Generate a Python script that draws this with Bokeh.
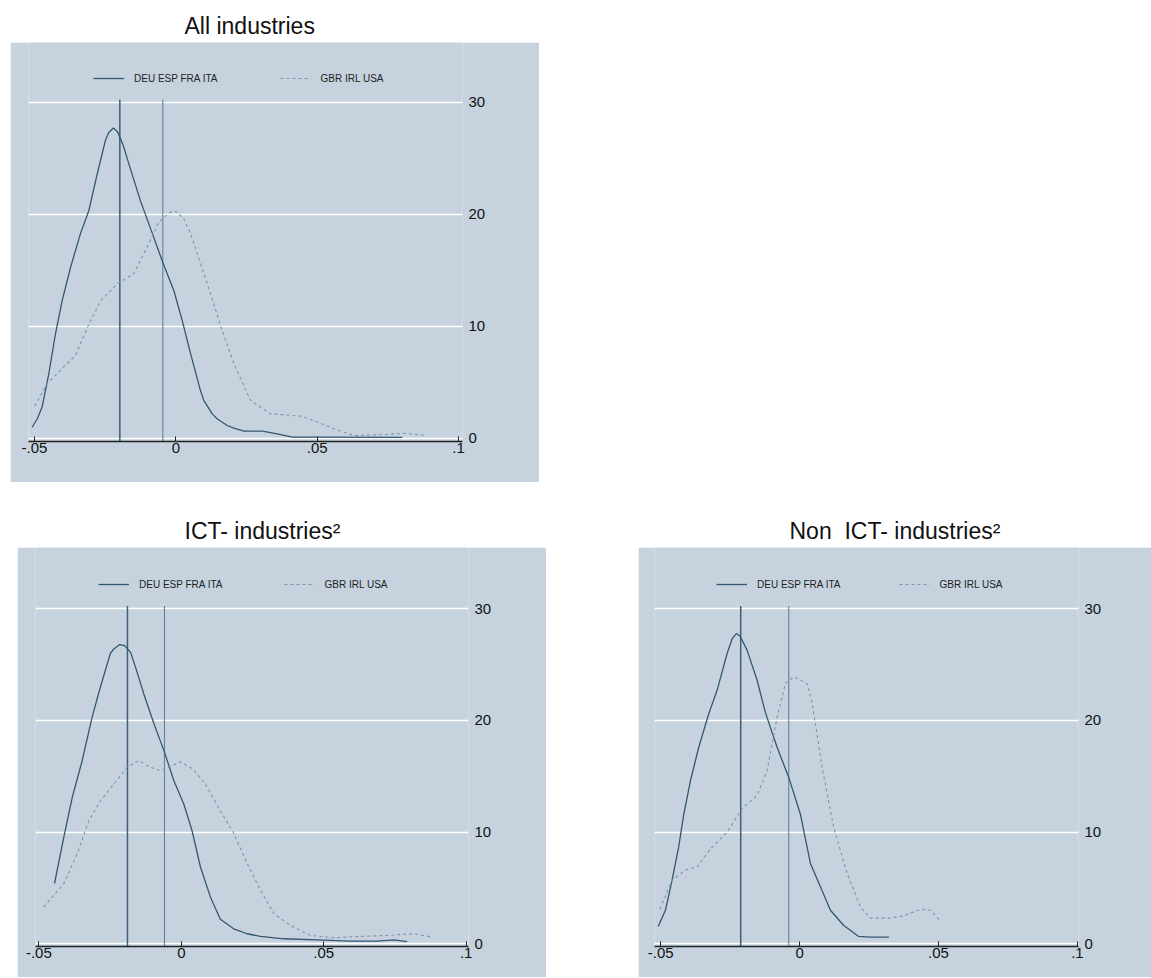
from bokeh.plotting import figure
from bokeh.models import Label, Legend, LegendItem, FixedTicker, Range1d, Spacer
from bokeh.layouts import column, row
from bokeh.embed import file_html
from bokeh.resources import INLINE

FONT = "Liberation Sans"
BG = "#c6d3df"
SOLID = "#34566f"
DASH = "#7f94a9"
VLINE1 = "#3d5d7a"
VLINE2 = "#62809c"

# ---------------- data ----------------
titles = ["All industries", "ICT- industries\u00b2", "Non\u00a0 ICT- industries\u00b2"]
legend_labels = ["DEU ESP FRA ITA", "GBR IRL USA"]
xtick_values = [-0.05, 0, 0.05, 0.1]
xtick_labels = ["-.05", "0", ".05", ".1"]
ytick_values = [0, 10, 20, 30]

# All industries
all_solid_x = [-0.0508, -0.049, -0.0473, -0.0449, -0.0426, -0.0402, -0.0372, -0.0337, -0.0308, -0.0278,
               -0.0249, -0.0237, -0.0221, -0.0207, -0.0198, -0.0184, -0.0166, -0.0125, -0.0083, -0.0046,
               -0.0007, 0.0023, 0.0052, 0.0087, 0.0099, 0.0129, 0.0146, 0.0182, 0.0205, 0.0241,
               0.0306, 0.0359, 0.0412, 0.05, 0.0795, 0.0801]
all_solid_y = [1.0, 1.76, 2.8, 5.8, 9.3, 12.3, 15.3, 18.3, 20.3, 23.6,
               26.6, 27.3, 27.7, 27.4, 26.9, 26.0, 24.5, 21.2, 18.3, 15.7,
               13.2, 10.5, 7.6, 4.3, 3.4, 2.2, 1.76, 1.16, 0.92, 0.65,
               0.65, 0.42, 0.12, 0.12, 0.1, 0.1]
all_dash_x = [-0.0499, -0.0455, -0.0396, -0.0355, -0.0313, -0.0266, -0.0207, -0.0149, -0.0101, -0.006,
              -0.003, -0.0013, 0.0005, 0.0028, 0.0052, 0.0076, 0.0123, 0.0158, 0.0205, 0.0264,
              0.0335, 0.0441, 0.0488, 0.0559, 0.063, 0.0724, 0.0807, 0.0883]
all_dash_y = [2.9, 4.9, 6.4, 7.4, 9.9, 12.3, 13.8, 14.7, 17.1, 19.3,
              20.0, 20.3, 20.2, 19.6, 18.3, 16.5, 12.9, 10.1, 6.7, 3.4,
              2.2, 2.0, 1.6, 0.87, 0.27, 0.33, 0.47, 0.27]
all_vlines = [-0.0198, -0.0046]

# ICT industries
ict_solid_x = [-0.0445, -0.0412, -0.0383, -0.0348, -0.0313, -0.0284, -0.0249, -0.0237, -0.0216, -0.0199,
               -0.0178, -0.0161, -0.0132, -0.0096, -0.0061, -0.0026, 0.0009, 0.0038, 0.0067, 0.0102,
               0.0137, 0.0184, 0.0231, 0.0278, 0.036, 0.0477, 0.0594, 0.0688, 0.0746, 0.0793]
ict_solid_y = [5.4, 9.6, 13.1, 16.4, 20.3, 23.0, 26.0, 26.4, 26.8, 26.7,
               26.1, 24.8, 22.4, 19.7, 17.3, 14.6, 12.5, 10.1, 6.9, 4.2,
               2.2, 1.34, 0.9, 0.66, 0.45, 0.36, 0.24, 0.24, 0.36, 0.2]
ict_dash_x = [-0.0483, -0.0412, -0.0365, -0.0325, -0.0284, -0.0237, -0.019, -0.0149, -0.0108, -0.0073,
              -0.0038, -0.0003, 0.0038, 0.0085, 0.0137, 0.0184, 0.0231, 0.0278, 0.0325, 0.0383,
              0.0453, 0.0535, 0.0629, 0.0723, 0.0816, 0.0881]
ict_dash_y = [3.3, 5.4, 8.1, 11.0, 12.8, 14.3, 15.8, 16.4, 15.8, 15.5,
              15.9, 16.3, 15.7, 14.3, 11.9, 9.9, 7.2, 4.8, 2.7, 1.64,
              0.75, 0.54, 0.66, 0.75, 0.9, 0.6]
ict_vlines = [-0.0189, -0.0059]

# Non ICT industries
non_solid_x = [-0.0509, -0.0483, -0.0459, -0.0435, -0.0417, -0.0393, -0.0363, -0.0327, -0.0297, -0.0261,
               -0.0243, -0.0227, -0.0213, -0.0189, -0.0153, -0.0123, -0.0081, -0.0039, 0.0003, 0.0039,
               0.0075, 0.0111, 0.0159, 0.0213, 0.0255, 0.0322]
non_solid_y = [1.55, 3.0, 5.7, 8.7, 11.6, 14.6, 17.6, 20.6, 22.7, 26.0,
               27.3, 27.8, 27.5, 26.3, 23.6, 20.7, 17.6, 14.9, 11.6, 7.2,
               5.1, 3.0, 1.64, 0.66, 0.6, 0.6]
non_dash_x = [-0.0503, -0.0459, -0.0411, -0.0369, -0.0321, -0.0261, -0.0207, -0.0153, -0.0117, -0.0081,
              -0.0051, -0.0039, -0.0021, 0.0003, 0.0027, 0.0045, 0.0081, 0.0123, 0.0171, 0.0219,
              0.0255, 0.0327, 0.0375, 0.0435, 0.0471, 0.0505]
non_dash_y = [3.1, 5.7, 6.6, 6.9, 8.5, 10.0, 12.1, 13.3, 15.5, 20.3,
              23.3, 23.6, 23.9, 23.6, 23.3, 21.6, 15.8, 10.4, 6.3, 3.3,
              2.3, 2.3, 2.5, 3.1, 3.0, 2.1]
non_vlines = [-0.0212, -0.0039]

VLINE_TOP = 30.25  # top of the plot region


def make_panel(width, height, ml, mr, mb, xr, yr, sx, sy, dx, dy, vlines, leg_x, leg_y, leg_spacing):
    p = figure(width=width, height=height, x_range=Range1d(*xr), y_range=Range1d(*yr),
               y_axis_location="right", toolbar_location=None, output_backend="svg",
               min_border_left=ml, min_border_right=mr, min_border_bottom=mb, min_border_top=0,
               background_fill_color=BG, border_fill_color=BG, outline_line_color=None)
    p.xgrid.visible = False
    p.ygrid.grid_line_color = "white"
    p.ygrid.grid_line_width = 1.5
    p.yaxis.ticker = FixedTicker(ticks=ytick_values)
    p.xaxis.ticker = FixedTicker(ticks=xtick_values)
    p.xaxis.major_label_overrides = {v: l for v, l in zip(xtick_values, xtick_labels)}
    for ax in (p.xaxis, p.yaxis):
        ax.major_label_text_font = FONT
        ax.major_label_text_font_size = "15px"
        ax.major_label_text_color = "#111111"
        ax.minor_tick_line_color = None
    p.xaxis.axis_line_color = "#222222"
    p.xaxis.axis_line_width = 1.6
    p.xaxis.major_tick_line_color = "#222222"
    p.xaxis.major_tick_in = 5
    p.xaxis.major_tick_out = 0
    p.xaxis.major_label_standoff = 1
    p.yaxis.axis_line_color = None
    p.yaxis.major_tick_line_color = None
    p.yaxis.major_tick_in = 0
    p.yaxis.major_tick_out = 0
    p.yaxis.major_label_standoff = 6

    # vertical reference lines
    p.segment(x0=[vlines[0]], y0=[yr[0]], x1=[vlines[0]], y1=[VLINE_TOP], line_color=VLINE1, line_width=1.5)
    p.segment(x0=[vlines[1]], y0=[yr[0]], x1=[vlines[1]], y1=[VLINE_TOP], line_color=VLINE2, line_width=1.1)

    r1 = p.line(sx, sy, line_color=SOLID, line_width=1.3)
    r2 = p.line(dx, dy, line_color=DASH, line_width=1.1, line_dash="3 3")

    leg = Legend(items=[LegendItem(label=legend_labels[0], renderers=[r1]),
                        LegendItem(label=legend_labels[1], renderers=[r2])],
                 orientation="horizontal", location=(leg_x, leg_y), padding=0, margin=0,
                 spacing=leg_spacing, glyph_width=31, glyph_height=16, label_height=16,
                 label_standoff=10, label_text_font=FONT, label_text_font_size="10px",
                 label_text_color="#222222", background_fill_alpha=0, border_line_color=None)
    p.add_layout(leg)
    return p


def title_fig(width, height, ml, mr, text, x):
    t = figure(width=width, height=height, x_axis_type=None, y_axis_type=None,
               toolbar_location=None, output_backend="svg",
               min_border_left=ml, min_border_right=mr, min_border_top=0, min_border_bottom=0,
               outline_line_color=None, border_fill_color="white", background_fill_color="white")
    t.title.visible = False
    t.add_layout(Label(x=x, y=17, x_units="screen", y_units="screen", text=text,
                       text_font=FONT, text_font_size="23px", text_color="#111111",
                       text_baseline="middle"))
    return t


t1 = title_fig(529, 34, 18, 77, titles[0], 156)
p1 = make_panel(529, 440, 18, 77, 41, (-0.05211, 0.10142), (-0.268, 35.33),
                all_solid_x, all_solid_y, all_dash_x, all_dash_y, all_vlines, 65, 355, 62)
t2 = title_fig(529, 65, 18, 78, titles[1], 149)
p2 = make_panel(529, 430, 18, 78, 31, (-0.05118, 0.10081), (-0.242, 35.49),
                ict_solid_x, ict_solid_y, ict_dash_x, ict_dash_y, ict_vlines, 63, 354, 61)
t3 = title_fig(513, 65, 16, 73, titles[2], 135)
p3 = make_panel(513, 430, 16, 73, 31, (-0.05223, 0.1004), (-0.242, 35.49),
                non_solid_x, non_solid_y, non_dash_x, non_dash_y, non_vlines, 62, 354, 58)

layout = column(
    Spacer(width=10, height=8),
    row(Spacer(width=10, height=474), column(t1, p1)),
    row(Spacer(width=17, height=495), column(t2, p2), Spacer(width=92, height=495), column(t3, p3)),
)

open("out.html", "w").write(file_html(layout, INLINE))
